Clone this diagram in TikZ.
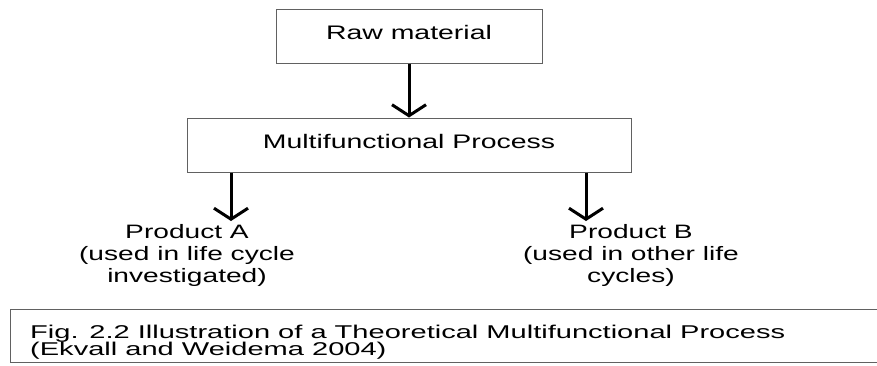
\documentclass[tikz,border=0pt]{standalone}
\usepackage{fontspec}
\setmainfont{Liberation Sans}
\newfontfamily\widesans{Liberation Sans}[FakeStretch=1.45]
\newfontfamily\captionsans{Liberation Sans}[FakeStretch=1.57]
\usetikzlibrary{arrows.meta}

\tikzset{
  procbox/.style={draw=black!62, line width=1pt, minimum height=54pt, inner sep=0pt,
    text height=14pt, text depth=8pt,
    font=\widesans\fontsize{19.6}{22}\selectfont},
  flow/.style={line width=3pt, -{Straight Barb[length=11pt, width=34pt, line width=3pt]}},
  outlabel/.style={align=center, anchor=north, inner sep=0pt,
    font=\widesans\fontsize{19.4}{22}\selectfont},
  caption/.style={align=left, anchor=north west, inner sep=0pt,
    font=\captionsans\fontsize{18.5}{17.5}\selectfont},
  frame/.style={draw=black!62, line width=1pt}
}

\begin{document}
\begin{tikzpicture}[x=1pt, y=-1pt]
  \useasboundingbox (0,0) rectangle (877,365);

  % process boxes
  \node[procbox, minimum width=266pt] (raw) at (409,36) {Raw material};
  \node[procbox, minimum width=444pt] (multi) at (409,145) {Multifunctional Process};

  % output products, centred under the edges of the process box
  \node[outlabel] (pa) at (187,224) {Product A\\(used in life cycle\\investigated)};
  \node[outlabel] (pb) at (631,224) {Product B\\(used in other life\\cycles)};

  % arrow ends above the product labels
  \coordinate (ta) at (231,221);
  \coordinate (tb) at (586,221);

  % flows
  \draw[flow] (raw.south) -- (multi.north);
  \draw[flow] (multi.south -| ta) -- (ta);
  \draw[flow] (multi.south -| tb) -- (tb);

  % caption with open frame
  \node[caption] (cap) at (30,324.5) {Fig. 2.2 Illustration of a Theoretical Multifunctional Process\\(Ekvall and Weidema 2004)};
  \coordinate (capTL) at (10,309);
  \coordinate (capBL) at (10,362);
  \draw[frame] (capTL -| 877,0) -- (capTL) -- (capBL) -- (capBL -| 877,0);
\end{tikzpicture}
\end{document}
